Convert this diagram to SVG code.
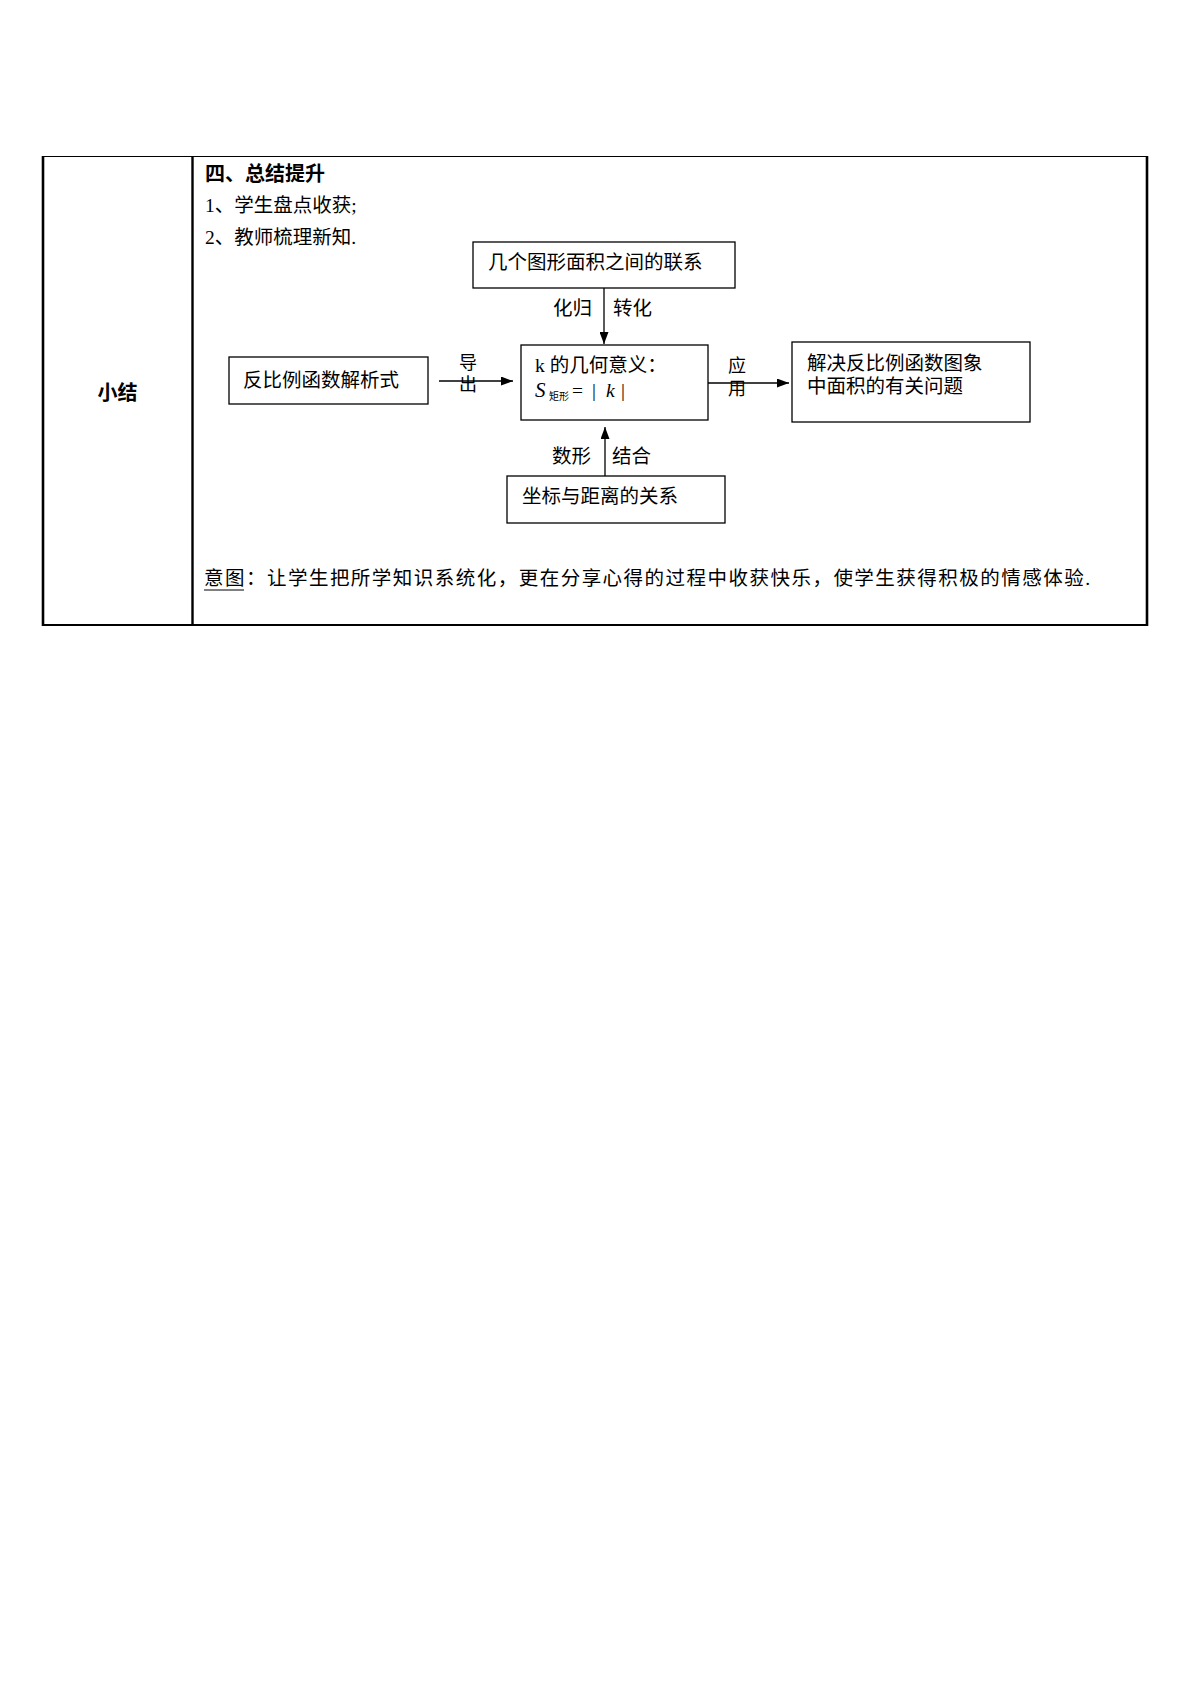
<svg xmlns="http://www.w3.org/2000/svg" width="1191" height="1684" viewBox="0 0 1191 1684">
<style>
.t{font-family:"Liberation Serif","Noto Sans CJK SC",serif;font-size:19.5px;fill:#000}
.s{font-family:"Liberation Serif","Noto Sans CJK SC",serif;font-size:18px;fill:#000}
.b{font-family:"Liberation Sans","Noto Sans CJK SC",sans-serif;font-size:20px;font-weight:bold;fill:#000}
.box{fill:#fff;stroke:#000;stroke-width:1.3}
.ln{stroke:#000;stroke-width:1.3;fill:none}
.i{font-style:italic}
</style>
<defs>
<marker id="ah" markerWidth="12" markerHeight="9" refX="12" refY="4.5" orient="auto" markerUnits="userSpaceOnUse">
<path d="M0,0 L12,4.5 L0,9 Z" fill="#000"/>
</marker>
</defs>
<rect width="1191" height="1684" fill="#fff"/>
<g id="table">
<line x1="43" y1="156.5" x2="1147" y2="156.5" stroke="#000" stroke-width="1.2"/>
<line x1="43" y1="625" x2="1147" y2="625" stroke="#000" stroke-width="1.8"/>
<line x1="43" y1="156" x2="43" y2="626" stroke="#000" stroke-width="2.6"/>
<line x1="192.5" y1="156" x2="192.5" y2="626" stroke="#000" stroke-width="2.4"/>
<line x1="1147" y1="156" x2="1147" y2="626" stroke="#000" stroke-width="2.6"/>
<text class="b" x="117.5" y="400" text-anchor="middle">小结</text>
</g>
<g id="intro">
<text class="b" x="205" y="181" font-size="20.5">四、总结提升</text>
<text class="t" x="205" y="212">1、学生盘点收获;</text>
<text class="t" x="205" y="244">2、教师梳理新知.</text>
</g>
<g id="node-top">
<rect class="box" x="473" y="242" width="262" height="46"/>
<text class="t" x="488" y="269">几个图形面积之间的联系</text>
</g>
<g id="node-left">
<rect class="box" x="229" y="357" width="199" height="47"/>
<text class="t" x="243" y="387">反比例函数解析式</text>
</g>
<g id="node-center">
<rect class="box" x="521" y="345" width="187" height="75"/>
<text class="t" x="535" y="372">k 的几何意义：</text>
<text class="t" y="397"><tspan class="i" x="535" font-size="21">S</tspan><tspan x="549" dy="3" font-size="10">矩形</tspan><tspan x="572" dy="-3">=</tspan><tspan x="592">|</tspan><tspan class="i" x="606">k</tspan><tspan x="621">|</tspan></text>
</g>
<g id="node-right">
<rect class="box" x="792" y="342" width="238" height="80"/>
<text class="t" x="807" y="370">解决反比例函数图象</text>
<text class="t" x="807" y="393">中面积的有关问题</text>
</g>
<g id="node-bottom">
<rect class="box" x="507" y="476" width="218" height="47"/>
<text class="t" x="522" y="503">坐标与距离的关系</text>
</g>
<g id="connectors">
<line class="ln" x1="604" y1="288" x2="604" y2="344" marker-end="url(#ah)"/>
<line class="ln" x1="439" y1="381" x2="513" y2="381" marker-end="url(#ah)"/>
<line class="ln" x1="708" y1="383" x2="789" y2="383" marker-end="url(#ah)"/>
<line class="ln" x1="605" y1="476" x2="605" y2="427" marker-end="url(#ah)"/>
<text class="t" x="553" y="315">化归</text>
<text class="t" x="613" y="315">转化</text>
<text class="s" x="459" y="369">导</text>
<text class="s" x="459" y="391">出</text>
<text class="s" x="728" y="372">应</text>
<text class="s" x="728" y="395">用</text>
<text class="t" x="552" y="463">数形</text>
<text class="t" x="612" y="463">结合</text>
</g>
<g id="note">
<text class="t" x="204" y="585" textLength="886" lengthAdjust="spacing">意图：让学生把所学知识系统化，更在分享心得的过程中收获快乐，使学生获得积极的情感体验.</text>
<line x1="204" y1="590" x2="244" y2="590" stroke="#000" stroke-width="1"/>
</g>
</svg>
